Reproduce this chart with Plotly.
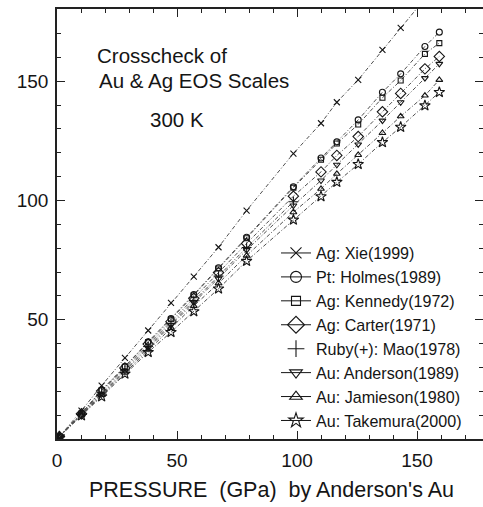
import plotly.graph_objects as go

# Pressure on Anderson's Au scale (GPa) - shared x for every scale
p_anderson_au = [1.0, 10.2, 18.6, 28.3, 38.0, 47.5, 57.0, 67.3, 79.0, 98.5,
                 110.0, 116.6, 125.5, 135.6, 143.2, 153.3, 159.3]

# Pressure from each of the other EOS scales (GPa)
ag_xie = [1.0, 11.9, 22.4, 34.0, 45.5, 57.1, 68.1, 80.4, 95.8, 119.7,
          132.4, 141.2, 150.6, 163.2, 172.4, 184.7, 192.0]
pt_holmes = [1.0, 10.8, 20.5, 30.4, 40.8, 50.5, 60.6, 71.8, 84.6, 105.8,
             117.8, 124.6, 133.8, 145.4, 153.1, 164.6, 170.6]
ag_kennedy = [1.0, 10.7, 20.4, 30.3, 40.6, 50.2, 60.3, 71.5, 84.2, 105.4,
              117.1, 123.9, 131.9, 143.1, 150.3, 161.5, 166.0]
ag_carter = [1.0, 10.6, 20.1, 29.8, 39.8, 49.2, 59.0, 69.8, 82.0, 101.8,
             112.0, 118.9, 126.8, 137.2, 144.9, 155.2, 160.4]
ruby_mao = [1.0, 10.3, 19.3, 29.0, 38.8, 48.3, 58.0, 68.3, 80.3, 99.5]
au_anderson = [1.0, 10.2, 18.9, 28.5, 38.3, 47.8, 57.3, 67.2, 79.2, 97.9,
               108.4, 115.0, 123.5, 133.5, 141.2, 151.3, 157.3]
au_jamieson = [1.0, 10.0, 18.5, 27.9, 37.4, 46.6, 55.8, 65.3, 76.9, 95.1,
               104.9, 111.2, 119.1, 128.3, 135.3, 144.0, 150.6]
au_takemura = [1.0, 9.8, 17.8, 27.3, 36.4, 44.8, 53.5, 63.0, 74.6, 91.9,
               101.7, 107.7, 115.2, 124.4, 130.8, 139.8, 145.4]

names = ["Ag: Xie(1999)", "Pt: Holmes(1989)", "Ag: Kennedy(1972)",
         "Ag: Carter(1971)", "Ruby(+): Mao(1978)", "Au: Anderson(1989)",
         "Au: Jamieson(1980)", "Au: Takemura(2000)"]
series = [ag_xie, pt_holmes, ag_kennedy, ag_carter, ruby_mao,
          au_anderson, au_jamieson, au_takemura]
symbols = ["x-thin-open", "circle-open", "square-open", "diamond-open",
           "cross-thin-open", "triangle-down-open", "triangle-up-open",
           "star-open"]
plot_sizes = [6, 6, 5, 8, 7, 6, 6, 8]
legend_sizes = [11, 11, 9, 13, 12, 11, 11, 11]
legend_modes = ["lines+markers"] * 4 + ["markers"] + ["lines+markers"] * 3

FONT = "Liberation Sans, Arial, sans-serif"
INK = "#151515"

# plot-area geometry in pixels, used to place paper-referenced items
L, R, T, B = 57, 483, 9, 439


def px_to_paper(px, py):
    return (px - L) / (R - L), (B - py) / (B - T)


fig = go.Figure()

for name, ys, sym, sz in zip(names, series, symbols, plot_sizes):
    fig.add_trace(go.Scatter(
        x=p_anderson_au[:len(ys)], y=ys, mode="lines+markers", name=name,
        showlegend=False, cliponaxis=True,
        line=dict(color="#505050", width=1, dash="4px,2px,1px,2px"),
        marker=dict(symbol=sym, size=sz, color=INK,
                    line=dict(color=INK, width=1.1)),
    ))

# legend entries with larger symbols
for name, sym, sz, mode in zip(names, symbols, legend_sizes, legend_modes):
    fig.add_trace(go.Scatter(
        x=[None], y=[None], mode=mode, name=name,
        line=dict(color=INK, width=1),
        marker=dict(symbol=sym, size=sz, color=INK,
                    line=dict(color=INK, width=1.1)),
    ))

axis_common = dict(
    showline=True, linecolor="#222", linewidth=1.6, mirror="ticks",
    ticks="inside", ticklen=8, tickwidth=1.3, tickcolor="#222",
    showgrid=False, zeroline=False,
    tickfont=dict(family=FONT, size=19, color=INK),
    minor=dict(dtick=10, ticks="inside", ticklen=4, tickwidth=1.1,
               tickcolor="#222", showgrid=False),
)

fig.update_xaxes(range=[0, 177.5], tickvals=[0, 50, 100, 150],
                 ticktext=["0", "50", "100", "150"],
                 ticklabelstandoff=3, **axis_common)
fig.update_yaxes(range=[0, 180.3], tickvals=[50, 100, 150],
                 ticktext=["50", "100", "150"],
                 ticklabelstandoff=3, **axis_common)

annots = [
    ("Crosscheck of", 95, 55.5, 20.5),
    ("Au &amp; Ag EOS Scales", 97, 80, 20.5),
    ("300 K", 148, 120, 20.5),
]
for text, px, py, size in annots:
    ax, ay = px_to_paper(px, py)
    fig.add_annotation(text=text, xref="paper", yref="paper", x=ax, y=ay,
                       xanchor="left", yanchor="middle", showarrow=False,
                       font=dict(family=FONT, size=size, color=INK))

tx, ty = px_to_paper(271, 490)
fig.add_annotation(text="PRESSURE  (GPa)  by Anderson's Au",
                   xref="paper", yref="paper", x=tx, y=ty,
                   xanchor="center", yanchor="middle", showarrow=False,
                   font=dict(family=FONT, size=21.5, color=INK))

lx, ly = px_to_paper(276, 236)
fig.update_layout(
    width=483, height=507,
    margin=dict(l=L, r=483 - R, t=T, b=507 - B, autoexpand=False),
    paper_bgcolor="white", plot_bgcolor="white",
    showlegend=True,
    legend=dict(x=lx, y=ly, xanchor="left", yanchor="top",
                bgcolor="rgba(0,0,0,0)", borderwidth=0,
                font=dict(family=FONT, size=16.1, color=INK),
                itemwidth=30, tracegroupgap=0),
)

fig.write_html("out.html")
